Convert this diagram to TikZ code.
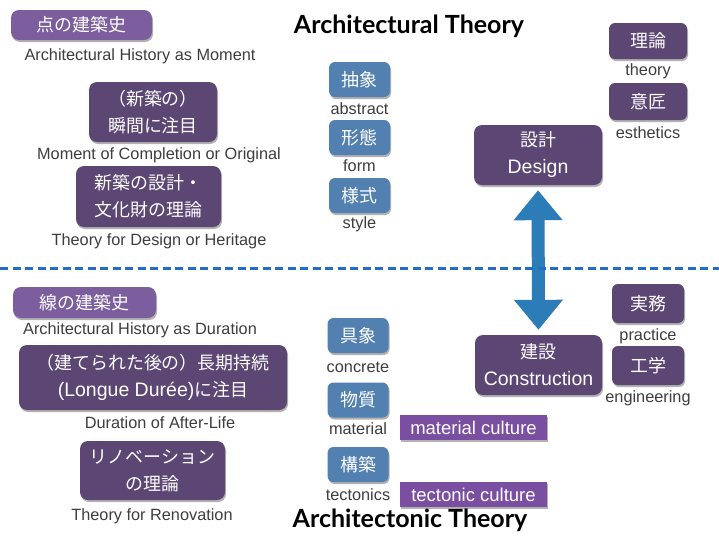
\documentclass[tikz,border=0pt]{standalone}
\usepackage{fontspec}
\setmainfont{Liberation Sans}
\newfontfamily\jp[Scale=0.92]{Noto Sans CJK JP}
\newfontfamily\headfont{Lato}
\usetikzlibrary{shadows,arrows.meta}

\definecolor{boxpurple}{RGB}{92,70,115}
\definecolor{headpurple}{RGB}{124,94,158}
\definecolor{culturepurple}{RGB}{122,78,160}
\definecolor{termblue}{RGB}{82,128,176}
\definecolor{arrowblue}{RGB}{44,124,184}
\definecolor{lineblue}{RGB}{32,110,200}
\definecolor{captiongray}{RGB}{62,62,62}

\newcommand{\boxfont}{\fontsize{19.5}{27}\selectfont}

\tikzset{
  softshadow/.style={drop shadow={shadow xshift=1pt, shadow yshift=-2pt, opacity=0.3, fill=black}},
  darkbox/.style={fill=boxpurple, rounded corners=8pt, text=white, font=\boxfont, align=center, inner sep=0pt, softshadow},
  headbox/.style={darkbox, fill=headpurple},
  termbox/.style={darkbox, fill=termblue, rounded corners=6pt, minimum width=61pt, minimum height=35pt},
  sidebox/.style={darkbox, rounded corners=6pt},
  culturebox/.style={fill=culturepurple, text=white, font=\fontsize{18.5}{22}\selectfont, inner sep=0pt, minimum width=147pt, minimum height=25pt, softshadow},
  caption/.style={text=captiongray, font=\fontsize{16.3}{19}\selectfont, inner sep=0pt, anchor=base},
  title/.style={font=\headfont\bfseries\fontsize{25}{30}\selectfont, inner sep=0pt, anchor=base}
}

\begin{document}
\begin{tikzpicture}[x=1pt,y=-1pt]
\fill[white] (0,0) rectangle (719,539);
\useasboundingbox (0,0) rectangle (719,539);

% titles
\node[title] (archtheory) at (409,33) {Architectural Theory};
\node[title] (tectheory) at (410,527) {Architectonic Theory};

% upper half: moment
\node[headbox, minimum width=141pt, minimum height=30pt] (pointhist) at (81.5,25) {\jp 点の建築史};
\node[caption] (pointcap) at (140,60) {Architectural History as Moment};
\node[darkbox, minimum width=128pt, minimum height=60pt] (moment) at (153,112) {\jp （新築の）\\\jp 瞬間に注目};
\node[caption] (momentcap) at (159,159) {Moment of Completion or Original};
\node[darkbox, minimum width=145pt, minimum height=61pt] (designtheory) at (148.5,196.5) {\jp 新築の設計・\\\jp 文化財の理論};
\node[caption] (designtheorycap) at (159,245) {Theory for Design or Heritage};

% lower half: duration
\node[headbox, minimum width=143pt, minimum height=31pt] (linehist) at (84.5,302.5) {\jp 線の建築史};
\node[caption] (linecap) at (140,334) {Architectural History as Duration};
\node[darkbox, minimum width=268pt, minimum height=65pt] (duration) at (153,377.5) {\jp （建てられた後の）長期持続\\(Longue Durée){\jp に注目}};
\node[caption] (durationcap) at (160,428) {Duration of After-Life};
\node[darkbox, minimum width=145pt, minimum height=59pt] (renovation) at (152.5,470.5) {\jp リノベーション\\\jp の理論};
\node[caption] (renovationcap) at (152,520) {Theory for Renovation};

% terms
\node[termbox] (abstract) at (359.5,79.5) {\jp 抽象};
\node[caption] at (359.5,114) {abstract};
\node[termbox] (form) at (359.5,137.5) {\jp 形態};
\node[caption] at (359.5,171) {form};
\node[termbox] (style) at (359.5,195.5) {\jp 様式};
\node[caption] at (359.5,228) {style};

\node[termbox] (concrete) at (358,335.5) {\jp 具象};
\node[caption] at (358,372) {concrete};
\node[termbox] (material) at (358,400) {\jp 物質};
\node[caption] at (358,434) {material};
\node[termbox] (tectonics) at (358,464.5) {\jp 構築};
\node[caption] at (358,500) {tectonics};

\node[culturebox] (matculture) at (473.5,427.5) {material culture};
\node[culturebox] (tecculture) at (473.5,494.5) {tectonic culture};

% design / construction
\node[sidebox, minimum width=78pt, minimum height=36pt] (theory) at (648,41) {\jp 理論};
\node[caption] at (648,75) {theory};
\node[sidebox, minimum width=78pt, minimum height=37pt] (esthetics) at (648,101.5) {\jp 意匠};
\node[caption] at (648,138) {esthetics};
\node[darkbox, minimum width=128pt, minimum height=60pt] (design) at (538,155) {\jp 設計\\Design};

\node[sidebox, minimum width=72pt, minimum height=39pt] (practice) at (648,303.5) {\jp 実務};
\node[caption] at (648,340) {practice};
\node[sidebox, minimum width=72pt, minimum height=39pt] (engineering) at (648,365.5) {\jp 工学};
\node[caption] at (648,402) {engineering};
\node[darkbox, minimum width=127pt, minimum height=60pt] (construction) at (538.5,365) {\jp 建設\\Construction};

\draw[arrowblue, line width=13pt, {Triangle[width=47pt,length=30pt]}-{Triangle[width=47pt,length=30pt]}, shorten <=5pt, shorten >=5pt] (design.south) -- (construction.north);

% border between theories
\coordinate (lineleft) at (0,268);
\coordinate (lineright) at (719,268);
\draw[lineblue, line width=3pt, dash pattern=on 8pt off 4.5pt] (lineleft) -- (lineright);
\end{tikzpicture}
\end{document}
